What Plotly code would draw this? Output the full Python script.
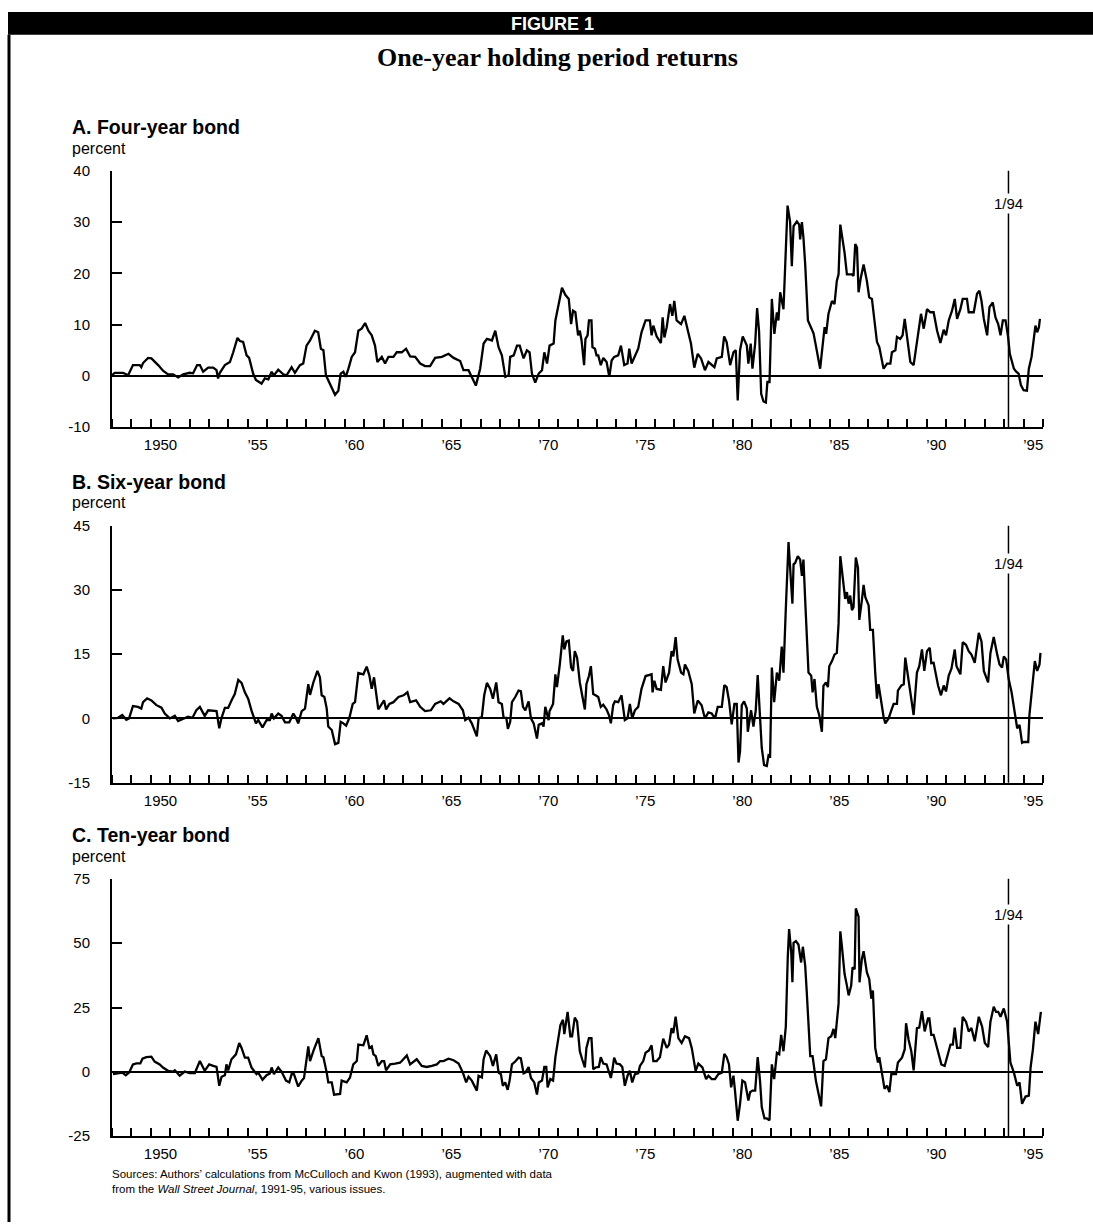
import plotly.graph_objects as go

# ---------------- data ----------------
A_YEARS = [1948.0,1948.14,1948.57,1948.7,1948.83,1949.08,1949.43,1949.51,1949.6,1949.86,1950.03,1950.38,1950.63,1950.89,1951.15,1951.41,1951.67,1952.01,1952.18,1952.39,1952.53,1952.7,1952.96,1953.22,1953.39,1953.47,1953.56,1953.82,1954.08,1954.25,1954.47,1954.59,1954.76,1954.94,1955.07,1955.28,1955.42,1955.71,1955.88,1956.06,1956.23,1956.35,1956.57,1956.83,1957.0,1957.26,1957.43,1957.69,1957.86,1958.03,1958.21,1958.46,1958.63,1958.77,1958.9,1959.03,1959.24,1959.5,1959.67,1959.79,1959.93,1960.05,1960.19,1960.36,1960.53,1960.7,1960.87,1961.05,1961.22,1961.39,1961.56,1961.68,1961.91,1962.08,1962.25,1962.51,1962.68,1962.94,1963.16,1963.37,1963.63,1963.89,1964.14,1964.4,1964.66,1965.01,1965.35,1965.61,1965.95,1966.12,1966.38,1966.55,1966.76,1966.98,1967.16,1967.33,1967.59,1967.76,1967.93,1968.1,1968.28,1968.45,1968.53,1968.71,1968.88,1969.02,1969.22,1969.39,1969.53,1969.65,1969.82,1970.0,1970.17,1970.29,1970.43,1970.56,1970.77,1970.86,1971.03,1971.2,1971.37,1971.55,1971.67,1971.77,1971.89,1971.98,
           1972.03,1972.12,1972.21,1972.34,1972.41,1972.52,1972.59,1972.72,1972.77,1972.9,1972.98,1973.07,1973.2,1973.33,1973.5,1973.64,1973.76,1973.89,1974.1,1974.24,1974.41,1974.58,1974.67,1974.79,1974.96,1975.13,1975.3,1975.51,1975.73,1975.82,1975.91,1976.08,1976.3,1976.39,1976.48,1976.6,1976.77,1976.89,1976.99,1977.11,1977.34,1977.51,1977.71,1977.85,1978.02,1978.2,1978.37,1978.57,1978.75,1978.92,1979.06,1979.18,1979.44,1979.56,1979.69,1979.87,1980.04,1980.16,1980.26,1980.38,1980.52,1980.73,1980.81,1980.93,1981.02,1981.16,1981.26,1981.36,1981.47,1981.59,1981.71,1981.79,1981.9,1982.02,1982.15,1982.28,1982.36,1982.45,1982.62,1982.83,1982.96,1983.05,1983.14,1983.31,1983.43,1983.48,1983.57,1983.65,1983.74,1983.88,1984.08,1984.17,1984.29,1984.51,1984.74,1984.82,1984.94,1985.12,1985.25,1985.37,1985.46,1985.55,1985.63,1985.77,1985.89,1986.15,1986.23,1986.32,1986.41,1986.49,1986.61,1986.75,1986.92,1987.04,1987.18,1987.32,1987.44,1987.56,1987.78,1987.96,1988.13,1988.21,1988.39,1988.47,1988.64,1988.76,1988.87,1988.99,1989.16,1989.33,1989.45,1989.59,1989.71,1989.85,1990.02,1990.19,1990.36,1990.54,1990.71,1990.88,1991.0,1991.14,1991.31,1991.45,1991.57,1991.74,1991.86,1992.08,1992.17,1992.43,1992.6,1992.72,1992.83,1992.95,1993.12,1993.24,1993.41,1993.55,1993.69,1993.81,1993.93,1994.07,1994.2,1994.29,1994.5,1994.62,1994.74,1994.86,1995.0,1995.17,1995.27,1995.41,1995.53,1995.61,1995.7,1995.79,1995.84]
A_VALS = [0.1,0.6,0.6,0.3,0.1,2.1,2.1,1.7,2.5,3.5,3.4,2.1,1.0,0.3,0.3,-0.3,0.3,0.6,0.5,2.1,2.1,0.8,1.6,1.6,1.1,-0.5,0.6,2.1,2.7,4.6,7.4,6.8,6.6,4.0,3.5,0.4,-0.8,-1.5,-0.5,-0.7,0.8,0.1,1.2,0.3,0.1,1.7,0.6,2.1,2.4,5.9,6.9,8.8,8.5,5.3,5.0,0.1,-1.5,-3.7,-2.9,0.45,0.8,-0.2,1.4,3.7,4.6,8.8,9.2,10.3,8.8,7.9,5.9,2.7,3.7,2.4,3.7,3.7,4.6,4.6,5.3,3.8,3.7,2.4,1.9,1.9,3.5,3.7,4.3,3.5,2.9,1.1,1.1,-0.2,-1.9,1.4,6.3,7.2,6.9,8.8,5.6,4.0,-0.2,0.1,3.7,4.0,5.9,5.9,3.4,5.0,4.6,0.45,-1.3,0.45,1.1,4.6,2.4,5.9,6.3,10.8,13.7,17.2,15.8,15.0,10.1,12.7,12.4,8.8,
          7.9,8.8,6.9,2.1,7.2,7.9,10.8,10.8,5.6,5.3,4.0,4.0,2.1,3.5,2.7,-0.2,3.0,3.7,4.0,5.9,2.1,2.4,5.3,2.4,3.7,5.3,8.5,10.8,10.8,7.9,9.8,7.7,6.4,11.4,7.5,9.5,14.0,11.7,14.6,10.8,10.1,11.7,8.5,6.3,1.6,4.3,3.4,1.1,2.7,2.1,1.7,3.4,3.7,7.7,6.6,2.1,4.6,5.0,-4.8,5.0,7.7,5.9,2.4,6.3,1.4,6.3,13.2,8.8,-3.5,-5.0,-5.2,-1.2,-1.2,15.0,8.2,12.4,10.8,16.3,13.0,33.2,30.1,21.4,29.2,30.1,29.5,26.6,30.0,26.9,21.7,10.8,9.2,8.3,5.9,1.4,9.5,8.2,12.1,14.6,14.0,18.5,19.8,29.5,27.5,24.0,19.8,19.8,19.5,25.7,25.0,16.3,19.2,21.7,18.5,15.3,15.0,10.1,6.6,5.6,1.4,2.4,2.4,4.6,5.0,7.6,7.2,7.9,11.1,7.6,2.7,2.1,5.6,8.8,12.1,9.2,13.0,12.4,12.4,8.8,6.4,9.0,7.9,10.8,12.7,15.0,11.1,13.0,15.0,15.0,12.4,12.4,16.0,16.6,14.6,11.1,7.9,13.4,14.3,11.4,10.1,7.9,10.8,10.8,7.6,4.3,1.4,0.8,0.45,-1.8,-2.8,-2.9,1.4,3.7,8.2,9.8,8.5,9.5,11.1]

B_YEARS = [1948.05,1948.31,1948.53,1948.74,1948.88,1949.08,1949.34,1949.51,1949.6,1949.81,1950.03,1950.29,1950.55,1950.72,1950.98,1951.24,1951.41,1951.67,1951.92,1952.15,1952.35,1952.53,1952.78,1952.96,1953.22,1953.39,1953.53,1953.65,1953.82,1953.99,1954.16,1954.33,1954.51,1954.68,1954.85,1955.02,1955.19,1955.42,1955.54,1955.76,1955.97,1956.14,1956.23,1956.35,1956.57,1956.74,1956.92,1957.14,1957.35,1957.48,1957.6,1957.78,1957.95,1958.12,1958.21,1958.38,1958.59,1958.72,1958.81,1958.95,1959.07,1959.15,1959.33,1959.5,1959.67,1959.79,1959.93,1960.07,1960.24,1960.41,1960.53,1960.7,1960.96,1961.13,1961.27,1961.39,1961.51,1961.6,1961.73,1961.91,1962.03,1962.13,1962.3,1962.51,1962.77,1963.03,1963.23,1963.37,1963.68,1963.89,1964.14,1964.44,1964.66,1964.95,1965.09,1965.4,1965.61,1965.87,1966.09,1966.21,1966.38,1966.55,1966.81,1966.9,1967.07,1967.19,1967.33,1967.5,1967.64,1967.81,1967.93,1968.1,1968.19,1968.33,1968.41,1968.53,1968.62,1968.79,1968.96,1969.08,1969.19,1969.31,1969.48,1969.6,1969.74,1969.91,1970.0,1970.17,1970.25,1970.34,1970.51,1970.56,1970.74,1970.86,1970.94,1971.08,1971.24,1971.32,1971.43,1971.55,1971.67,1971.77,1971.86,1971.98,
           1972.12,1972.24,1972.38,1972.46,1972.59,1972.69,1972.81,1972.93,1973.07,1973.2,1973.33,1973.5,1973.62,1973.72,1973.84,1973.93,1974.1,1974.27,1974.44,1974.58,1974.7,1974.82,1974.96,1975.13,1975.3,1975.51,1975.68,1975.82,1975.87,1975.96,1976.08,1976.3,1976.42,1976.54,1976.72,1976.85,1976.94,1977.06,1977.16,1977.34,1977.46,1977.54,1977.71,1977.89,1978.02,1978.2,1978.4,1978.57,1978.75,1978.92,1979.09,1979.23,1979.44,1979.57,1979.69,1979.81,1979.95,1980.09,1980.21,1980.3,1980.38,1980.47,1980.59,1980.73,1980.78,1980.95,1981.07,1981.19,1981.29,1981.41,1981.5,1981.62,1981.76,1981.85,1981.93,1982.02,1982.14,1982.28,1982.4,1982.53,1982.62,1982.74,1982.88,1983.02,1983.08,1983.14,1983.22,1983.36,1983.48,1983.57,1983.65,1983.74,1983.82,1983.91,1984.05,1984.12,1984.22,1984.34,1984.46,1984.6,1984.68,1984.81,1984.91,1984.98,1985.12,1985.25,1985.37,1985.46,1985.55,1985.67,1985.8,1985.89,1985.98,1986.06,1986.15,1986.23,1986.35,1986.46,1986.53,1986.66,1986.75,1986.84,1987.01,1987.09,1987.23,1987.35,1987.44,1987.52,1987.66,1987.78,1987.87,1988.04,1988.18,1988.3,1988.47,1988.52,1988.7,1988.82,1988.9,1989.04,1989.16,1989.33,1989.5,1989.62,1989.76,1989.88,1990.02,1990.16,1990.24,1990.36,1990.59,1990.74,1990.88,1991.0,1991.14,1991.28,1991.45,1991.54,1991.74,1991.86,1992.03,1992.17,1992.31,1992.48,1992.69,1992.83,1992.95,1993.17,1993.29,1993.46,1993.64,1993.76,1993.89,1993.98,1994.1,1994.23,1994.38,1994.55,1994.67,1994.79,1994.92,1995.01,1995.24,1995.3,1995.44,1995.58,1995.7,1995.82,1995.87]
B_VALS = [0.0,0.15,0.8,-0.3,0.0,2.9,2.7,2.3,3.8,4.7,4.2,3.1,2.5,1.15,0.0,0.6,-0.6,0.0,0.4,0.15,1.9,2.7,0.6,1.9,1.7,1.7,-2.3,0.15,2.45,2.45,4.2,5.7,9.0,8.3,6.1,4.6,1.9,-1.15,-0.4,-2.1,-0.4,-0.4,1.15,0.0,1.15,0.6,-0.9,-0.9,1.15,0.15,-1.15,1.7,2.3,8.0,5.5,8.4,11.1,9.6,5.4,5.0,2.3,-1.9,-2.7,-6.0,-5.7,-0.8,-1.15,-1.7,0.15,3.4,3.8,10.6,10.3,12.1,10.0,6.9,9.6,6.9,2.1,3.4,4.2,2.1,3.4,3.8,5.0,5.4,6.1,3.8,4.2,2.7,1.7,1.9,3.4,4.0,3.4,4.7,4.0,3.4,1.9,-0.4,0.15,-1.15,-4.2,0.0,0.4,5.4,8.3,6.9,4.6,8.4,3.8,3.4,0.15,0.15,-2.45,-0.8,3.8,5.0,6.5,6.35,2.7,1.9,4.0,0.0,-1.15,-4.7,-1.5,-1.15,-1.9,2.7,-0.4,1.7,3.4,10.3,7.3,12.3,19.4,16.1,18.0,18.2,11.9,11.1,15.7,14.2,
          8.4,5.4,2.1,8.0,9.9,12.2,5.7,5.4,5.0,2.7,3.2,2.1,0.8,-1.15,3.1,4.0,3.8,5.4,-0.4,0.0,3.4,0.0,1.9,2.7,6.9,9.9,10.1,10.3,6.1,8.8,6.9,6.7,12.2,8.4,10.7,15.7,14.5,19.0,13.8,10.7,10.3,12.6,11.1,8.0,1.15,4.2,3.1,0.0,1.4,1.15,0.0,2.7,2.7,7.8,7.3,4.2,-1.4,3.4,3.4,-10.3,-7.7,3.1,4.0,2.3,-3.1,1.9,-1.9,1.9,10.1,1.5,-6.9,-10.9,-11.1,-8.6,-8.8,11.9,3.8,10.7,8.8,16.8,10.7,25.6,41.2,31.0,26.8,36.0,36.3,37.9,37.1,33.3,37.1,27.5,19.1,10.7,10.0,6.1,9.2,2.7,0.8,-3.1,7.6,8.4,7.3,12.2,13.4,14.9,15.3,22.2,37.9,33.3,27.9,29.5,26.8,28.7,25.3,26.0,37.6,35.2,23.0,27.5,31.2,28.3,26.4,20.7,20.7,10.7,4.6,8.0,3.4,0.4,-1.15,0.0,1.9,3.4,3.4,6.5,7.7,8.0,14.2,10.0,5.7,0.8,10.7,12.2,16.1,11.1,15.7,16.5,12.9,13.0,7.7,5.4,7.7,6.3,10.0,11.6,16.1,12.2,10.3,17.8,17.2,15.7,14.9,13.0,20.0,17.9,11.1,8.4,15.3,19.0,14.9,12.6,11.9,14.5,13.8,9.2,6.1,1.15,-2.3,-1.5,-5.7,-5.5,-5.5,0.8,7.7,13.4,11.1,12.6,15.3]

C_YEARS = [1948.05,1948.31,1948.53,1948.71,1948.88,1949.08,1949.26,1949.46,1949.57,1949.77,1950.03,1950.2,1950.46,1950.63,1950.89,1951.15,1951.24,1951.49,1951.75,1952.01,1952.27,1952.39,1952.53,1952.78,1953.01,1953.22,1953.39,1953.53,1953.65,1953.82,1953.9,1953.99,1954.16,1954.39,1954.56,1954.68,1954.85,1955.02,1955.19,1955.45,1955.54,1955.76,1955.97,1956.14,1956.23,1956.35,1956.57,1956.74,1956.97,1957.14,1957.26,1957.38,1957.6,1957.78,1957.9,1958.12,1958.21,1958.41,1958.64,1958.81,1958.9,1959.07,1959.15,1959.33,1959.45,1959.76,1959.84,1960.1,1960.27,1960.44,1960.62,1960.7,1960.96,1961.13,1961.27,1961.39,1961.48,1961.6,1961.73,1961.91,1962.03,1962.13,1962.34,1962.6,1962.85,1962.94,1963.2,1963.37,1963.71,1963.97,1964.23,1964.49,1964.75,1964.92,1965.09,1965.35,1965.61,1965.87,1966.09,1966.26,1966.38,1966.55,1966.81,1966.9,1967.07,1967.16,1967.29,1967.5,1967.64,1967.81,1967.93,1968.05,1968.15,1968.27,1968.4,1968.5,1968.62,1968.79,1968.96,1969.08,1969.22,1969.31,1969.48,1969.6,1969.77,1969.91,1970.0,1970.17,1970.29,1970.39,1970.46,1970.6,1970.74,1970.86,1970.94,1971.12,1971.25,1971.32,1971.49,1971.63,1971.72,1971.86,1971.98,
           1972.12,1972.24,1972.38,1972.46,1972.59,1972.72,1972.81,1972.93,1973.1,1973.2,1973.33,1973.5,1973.58,1973.72,1973.79,1973.89,1974.01,1974.19,1974.31,1974.44,1974.58,1974.7,1974.82,1974.96,1975.13,1975.22,1975.39,1975.51,1975.68,1975.82,1975.91,1976.08,1976.25,1976.42,1976.6,1976.72,1976.85,1976.94,1977.06,1977.2,1977.37,1977.54,1977.75,1977.89,1978.09,1978.23,1978.44,1978.63,1978.75,1978.92,1979.09,1979.26,1979.44,1979.57,1979.69,1979.81,1979.92,1980.04,1980.12,1980.26,1980.38,1980.5,1980.64,1980.81,1980.9,1981.02,1981.16,1981.29,1981.41,1981.5,1981.64,1981.76,1981.9,1982.02,1982.14,1982.28,1982.4,1982.5,1982.62,1982.74,1982.84,1982.91,1983.02,1983.08,1983.14,1983.26,1983.39,1983.53,1983.62,1983.74,1983.82,1983.91,1984.0,1984.12,1984.22,1984.29,1984.43,1984.56,1984.68,1984.81,1984.94,1985.08,1985.2,1985.29,1985.46,1985.55,1985.63,1985.77,1985.89,1985.98,1986.11,1986.18,1986.29,1986.35,1986.49,1986.54,1986.66,1986.75,1986.92,1987.04,1987.15,1987.23,1987.35,1987.49,1987.56,1987.7,1987.83,1987.96,1988.08,1988.18,1988.3,1988.42,1988.52,1988.73,1988.87,1988.94,1989.07,1989.21,1989.33,1989.5,1989.62,1989.76,1989.9,1990.07,1990.14,1990.24,1990.36,1990.54,1990.76,1990.93,1991.1,1991.23,1991.35,1991.45,1991.57,1991.74,1991.86,1992.03,1992.17,1992.31,1992.48,1992.69,1992.86,1993.0,1993.17,1993.29,1993.46,1993.58,1993.69,1993.81,1993.98,1994.15,1994.32,1994.5,1994.67,1994.79,1994.92,1995.1,1995.27,1995.36,1995.48,1995.61,1995.75,1995.89]
C_VALS = [-0.9,-0.6,-0.3,-1.3,-0.3,2.9,3.3,3.3,5.1,5.7,5.9,4.0,2.9,1.7,0.4,0.1,0.6,-1.5,0.1,-0.5,-0.5,1.7,4.2,0.4,2.9,2.3,1.9,-5.4,-1.9,-1.3,2.9,0.6,4.9,6.8,11.2,9.3,5.5,5.5,1.7,-0.9,-0.3,-3.1,-1.3,-0.6,1.7,-0.9,1.7,0.1,-3.4,-4.1,-0.9,-0.9,-5.7,-3.4,-2.4,9.9,4.2,8.7,13.1,6.1,5.7,-0.3,-4.1,-4.1,-8.9,-8.6,-3.4,-4.1,-2.2,2.9,4.2,10.6,10.3,14.2,9.3,9.9,6.8,6.1,2.3,4.2,4.2,0.6,2.9,3.2,3.6,4.2,6.4,2.9,4.9,2.3,1.9,2.3,2.9,4.2,4.2,5.1,4.5,3.2,-0.3,-4.1,-1.9,-3.4,-7.3,-1.5,-2.2,4.9,8.3,6.1,2.3,6.8,-0.3,-0.9,-5.4,-4.1,-7.0,-3.4,2.9,4.0,5.5,5.2,-0.6,-0.3,1.9,-2.4,-4.1,-8.8,-4.1,-3.4,1.9,1.9,-6.0,-2.8,-3.4,5.7,9.3,18.2,20.2,14.7,23.3,13.8,13.8,21.1,19.5,
          8.0,4.9,1.7,9.3,13.1,13.1,1.0,1.7,1.9,5.7,3.2,2.9,1.0,-2.4,0.4,5.5,3.2,2.9,1.9,-5.4,-1.5,0.4,-4.1,-0.9,-0.6,2.3,4.2,7.4,8.3,10.3,4.2,4.2,5.7,12.9,9.3,10.6,17.0,15.1,21.4,13.1,11.2,13.8,13.1,9.3,0.4,3.2,1.7,-2.8,-1.5,-2.8,-2.8,-0.9,-0.3,7.0,5.7,2.9,-6.0,-1.5,-7.3,-19.0,-12.4,-3.4,-4.1,-11.1,-7.9,-7.3,-7.3,5.7,-3.4,-13.7,-18.1,-18.1,-18.8,2.9,-2.8,7.4,6.8,14.4,8.0,17.6,44.4,55.5,46.3,34.8,50.1,50.8,49.5,42.5,48.6,41.2,31.0,18.2,6.1,6.1,0.4,-3.4,-8.6,-13.4,4.2,4.9,13.1,13.8,16.7,13.1,26.5,54.6,48.9,38.0,33.5,29.7,33.5,40.6,39.9,63.5,60.3,34.8,43.8,46.9,38.6,36.1,28.4,31.6,9.3,3.6,5.7,-0.9,-6.6,-5.4,-7.9,-0.9,-0.9,-0.9,3.6,5.5,8.7,18.9,12.5,8.0,0.6,17.0,17.2,23.6,15.7,20.8,20.8,14.4,14.4,8.7,2.9,2.3,6.8,10.6,10.6,17.2,9.3,9.3,21.4,19.5,15.7,17.0,11.9,21.4,17.6,11.2,9.6,19.5,25.3,23.3,23.3,21.4,24.6,19.5,3.6,-0.3,-5.4,-4.1,-12.4,-9.6,-9.2,1.7,8.7,19.5,14.7,23.3]

PANEL_TITLES = ["A. Four-year bond", "B. Six-year bond", "C. Ten-year bond"]
Y_TICKS = [[-10, 0, 10, 20, 30, 40], [-15, 0, 15, 30, 45], [-25, 0, 25, 50, 75]]
X_LABEL_YEARS = [1950, 1955, 1960, 1965, 1970, 1975, 1980, 1985, 1990, 1995]
X_LABELS = ["1950", "\u201955", "\u201960", "\u201965", "\u201970", "\u201975", "\u201980", "\u201985", "\u201990", "\u201995"]
EVENT_YEAR = 1994.22
EVENT_LABEL = "1/94"
EVENT_LABEL_Y = [33.6, 36.3, 61.0]

SERIES = [(A_YEARS, A_VALS), (B_YEARS, B_VALS), (C_YEARS, C_VALS)]

# ---------------- layout helpers ----------------
W, H = 1093, 1230
def px(x):
    return x / W
def py(y):
    return 1 - y / H

PLOT_LEFT, PLOT_RIGHT = 112, 1043
PANEL_TOP = [164, 524, 882]
PANEL_BOTTOM = [424, 784.5, 1143]
TITLE_Y = [120, 480, 838]
PERCENT_Y = [141, 500, 859]
TEXT_LEFT = 70

SANS = "Liberation Sans, Arial, sans-serif"
SERIF = "Liberation Serif, Times New Roman, serif"

fig = go.Figure()
layout = dict(
    width=W, height=H, autosize=False,
    margin=dict(l=0, r=0, t=0, b=0),
    paper_bgcolor="white", plot_bgcolor="white",
    showlegend=False,
    font=dict(family=SANS, size=15, color="black"),
)
annotations = []
shapes = []

for i, ((xs, ys), yt) in enumerate(zip(SERIES, Y_TICKS)):
    n = "" if i == 0 else str(i + 1)
    xa, ya = "x" + n, "y" + n
    fig.add_trace(go.Scatter(x=xs, y=ys, mode="lines", xaxis=xa, yaxis=ya,
                             line=dict(color="black", width=2.3),
                             hoverinfo="skip"))
    layout["xaxis" + n] = dict(
        domain=[px(PLOT_LEFT), px(PLOT_RIGHT)], anchor=ya,
        range=[1948, 1996], showgrid=False, zeroline=False,
        showline=True, linecolor="black", linewidth=2,
        tickmode="array", tickvals=[y + 0.5 for y in X_LABEL_YEARS], ticktext=X_LABELS,
        ticks="", ticklabelstandoff=3,
        tickfont=dict(family=SANS, size=15, color="black"),
        minor=dict(tickmode="linear", tick0=1948, dtick=1, ticks="inside",
                   ticklen=8, tickwidth=1.5, tickcolor="black", showgrid=False),
    )
    layout["yaxis" + n] = dict(
        domain=[py(PANEL_BOTTOM[i]), py(PANEL_TOP[i])], anchor=xa,
        range=[yt[0], yt[-1]], showgrid=False,
        zeroline=True, zerolinecolor="black", zerolinewidth=1.5,
        showline=True, linecolor="black", linewidth=2,
        tickmode="array", tickvals=yt, ticktext=[str(v) for v in yt],
        ticks="inside", ticklen=10,
        tickwidth=1.5, tickcolor="black", ticklabelstandoff=17,
        tickfont=dict(family=SANS, size=15, color="black"),
    )
    shapes.append(dict(type="line", xref=xa, yref=ya + " domain",
                       x0=EVENT_YEAR, x1=EVENT_YEAR, y0=0, y1=1,
                       line=dict(color="black", width=1.5)))
    annotations.append(dict(x=EVENT_YEAR, y=EVENT_LABEL_Y[i], xref=xa, yref=ya,
                            text=EVENT_LABEL, showarrow=False, bgcolor="white",
                            xanchor="center", yanchor="middle",
                            font=dict(family=SANS, size=15, color="black"),
                            borderpad=1))
    annotations.append(dict(x=px(TEXT_LEFT), y=py(TITLE_Y[i]), xref="paper", yref="paper",
                            xanchor="left", yanchor="middle", showarrow=False,
                            text="<b>" + PANEL_TITLES[i] + "</b>",
                            font=dict(family=SANS, size=19.5, color="black")))
    annotations.append(dict(x=px(TEXT_LEFT), y=py(PERCENT_Y[i]), xref="paper", yref="paper",
                            xanchor="left", yanchor="middle", showarrow=False,
                            text="percent",
                            font=dict(family=SANS, size=16, color="black")))

# header bar and frame
shapes.append(dict(type="rect", xref="paper", yref="paper",
                   x0=px(8), x1=1.0, y0=py(26), y1=py(3),
                   fillcolor="black", line=dict(width=0), layer="below"))
shapes.append(dict(type="line", xref="paper", yref="paper",
                   x0=px(9), x1=px(9), y0=0, y1=py(26),
                   line=dict(color="black", width=3)))
annotations.append(dict(x=px(552), y=py(15), xref="paper", yref="paper",
                        xanchor="center", yanchor="middle",
                        text="<b>FIGURE 1</b>", showarrow=False,
                        font=dict(family=SANS, size=18, color="white")))
annotations.append(dict(x=px(557), y=py(49), xref="paper", yref="paper",
                        xanchor="center", yanchor="middle",
                        text="<b>One-year holding period returns</b>", showarrow=False,
                        font=dict(family=SERIF, size=26, color="black")))
annotations.append(dict(x=px(110), y=py(1189), xref="paper", yref="paper",
                        xanchor="left", yanchor="middle", align="left", showarrow=False,
                        text="Sources: Authors\u2019 calculations from McCulloch and Kwon (1993), augmented with data<br>"
                             "from the <i>Wall Street Journal</i>, 1991-95, various issues.",
                        font=dict(family=SANS, size=11.5, color="black")))

layout["shapes"] = shapes
layout["annotations"] = annotations
fig.update_layout(**layout)
fig.write_html("out.html", config={"displayModeBar": False},
               post_script="document.body.style.margin='0px';document.body.style.padding='0px';")
